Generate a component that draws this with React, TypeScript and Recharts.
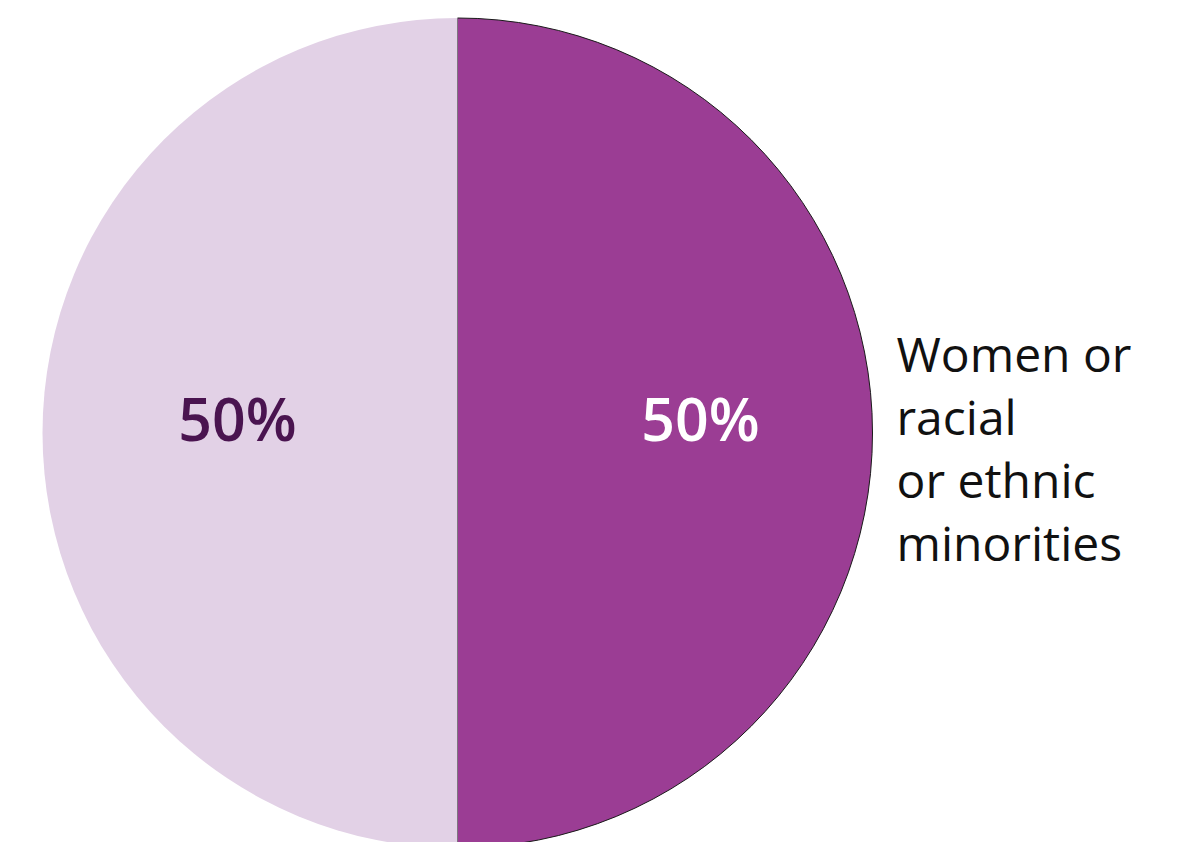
import React from "react";
import { PieChart, Pie, Cell } from "recharts";

const categories = ["Women or racial or ethnic minorities", "Other"];
const values = [50, 50];
const valueLabels = ["50%", "50%"];
const categoryLines = [["Women or", "racial", "or ethnic", "minorities"], []];

const fills = ["#9b3d94", "#e2d1e6"];
const strokes = ["#1a1a1a", "none"];
const labelColors = ["#ffffff", "#4a1450"];
const labelRadius = [243, 220];

const data = categories.map((name, i) => ({ name, value: values[i] }));

const FONT = "'Open Sans', 'Noto Sans', sans-serif";

const renderLabel = (props: any) => {
  const { cx, cy, midAngle, outerRadius, index } = props;
  const RAD = Math.PI / 180;
  const r = labelRadius[index];
  const x = cx + r * Math.cos(-midAngle * RAD);
  const y = cy + r * Math.sin(-midAngle * RAD);
  const lines = categoryLines[index];
  return (
    <g>
      <text
        x={x}
        y={y + 8}
        textAnchor="middle"
        fill={labelColors[index]}
        fontFamily={FONT}
        fontWeight={600}
        fontSize={59}
      >
        {valueLabels[index]}
      </text>
      {lines.map((ln, k) => (
        <text
          key={k}
          x={cx + outerRadius + 24}
          y={372 + k * 63}
          textAnchor="start"
          fill="#111111"
          fontFamily={FONT}
          fontSize={48}
        >
          {ln}
        </text>
      ))}
    </g>
  );
};

export default function App() {
  return (
    <div style={{ position: "absolute", left: 0, top: 0, width: 1182, height: 842, background: "#fff", overflow: "hidden" }}>
      <PieChart width={1182} height={842} margin={{ top: 0, right: 0, bottom: 0, left: 0 }}>
        <Pie
          data={data}
          dataKey="value"
          nameKey="name"
          cx={457.5}
          cy={433}
          outerRadius={415}
          innerRadius={0}
          startAngle={90}
          endAngle={-270}
          isAnimationActive={false}
          label={renderLabel}
          labelLine={false}
        >
          {data.map((d, i) => (
            <Cell key={d.name} fill={fills[i]} stroke={strokes[i]} strokeWidth={1} />
          ))}
        </Pie>
      </PieChart>
    </div>
  );
}
